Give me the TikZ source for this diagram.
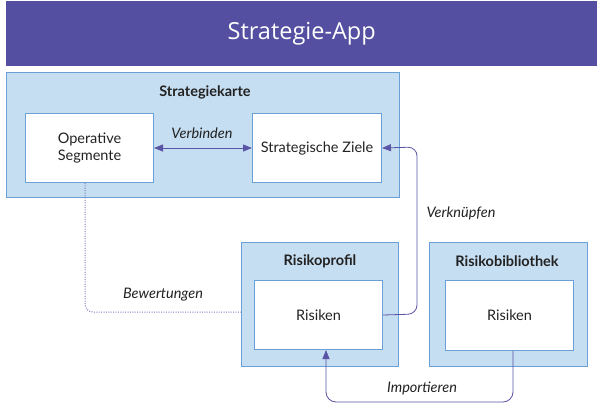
\documentclass[tikz,border=0pt]{standalone}
\usepackage{fontspec}
\setmainfont{Lato}
\newfontfamily\titlefont{Open Sans}
\usetikzlibrary{arrows.meta}
\definecolor{bar}{HTML}{544FA0}
\definecolor{grpfill}{HTML}{C6DEF1}
\definecolor{grpline}{HTML}{6A9FD8}
\definecolor{conn}{HTML}{5A55A6}
\definecolor{dotc}{HTML}{7E7ABF}
\definecolor{txt}{HTML}{222222}
\tikzset{
  x=1pt,y=-1pt,
  grp/.style={draw=grpline,fill=grpfill,line width=1pt,anchor=north west,inner sep=0pt},
  inbox/.style={draw=grpline,fill=white,line width=1pt,anchor=north west,inner sep=0pt,align=center,font=\fontsize{14.5}{17}\selectfont,text=txt},
  grptitle/.style={font=\bfseries\fontsize{14.5}{17}\selectfont,text=txt},
  lbl/.style={font=\itshape\fontsize{14.5}{17}\selectfont,text=txt},
  link/.style={draw=conn,line width=0.8pt,-{Triangle[length=9pt,width=7pt]}},
}
\begin{document}
\begin{tikzpicture}
\useasboundingbox (0,0) rectangle (600,404);
\fill[white] (0,0) rectangle (600,404);
% title bar
\node[fill=bar,anchor=north west,minimum width=591pt,minimum height=65pt,inner sep=0pt,text=white,font=\titlefont\fontsize{23.5}{27}\selectfont] (app) at (6,1) {Strategie-App};
% Strategiekarte
\node[grp,minimum width=393pt,minimum height=125pt] (karte) at (6,72) {};
\node[grptitle] (kartet) at (205,92) {Strategiekarte};
\node[inbox,minimum width=128pt,minimum height=69pt] (ops) at (25,113) {Operative\\Segmente};
\node[inbox,minimum width=129pt,minimum height=69pt] (ziele) at (252,113) {Strategische Ziele};
% Risikoprofil
\node[grp,minimum width=157pt,minimum height=124pt] (profil) at (241,242) {};
\node[grptitle] (profilt) at (320,261) {Risikoprofil};
\node[inbox,minimum width=128pt,minimum height=69pt] (rprof) at (254,280) {Risiken};
% Risikobibliothek
\node[grp,minimum width=158pt,minimum height=124pt] (bib) at (429,242) {};
\node[grptitle] (bibt) at (507,261) {Risikobibliothek};
\node[inbox,minimum width=128pt,minimum height=70pt] (rbib) at (445,280) {Risiken};
% connectors
\draw[link,{Triangle[length=9pt,width=7pt]}-{Triangle[length=9pt,width=7pt]}] (ops.east) -- (ziele.west);
\node[lbl] (verb) at (202,133) {Verbinden};
\coordinate (vk1) at (417,314);
\coordinate (vk2) at (417,147);
\draw[link,rounded corners=9pt] (rprof.east) -- (vk1) -- (vk2) -- (ziele.east);
\node[lbl] (verk) at (461,213) {Verknüpfen};
\coordinate (im1) at (513,402);
\coordinate (im2) at (326,402);
\draw[link,rounded corners=10pt] (rbib.south -| im1) -- (im1) -- (im2) -- (rprof.south -| im2);
\node[lbl] (imp) at (422,388) {Importieren};
\coordinate (bw1) at (85,312);
\draw[dotc,line width=1pt,dash pattern=on 1pt off 1.4pt,rounded corners=8pt] (ops.south -| bw1) -- (bw1) -- (profil.west |- bw1);
\node[lbl] (bew) at (163,295) {Bewertungen};
\end{tikzpicture}
\end{document}
